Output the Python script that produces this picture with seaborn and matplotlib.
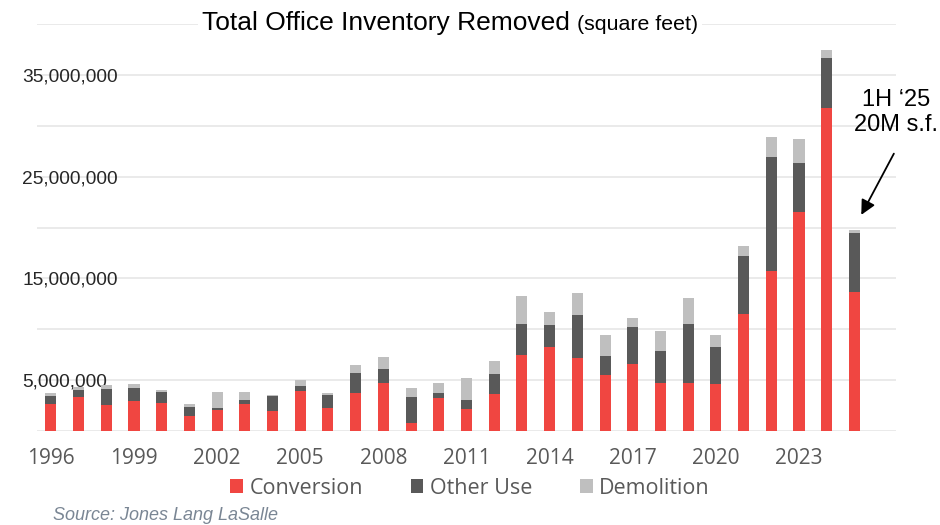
import matplotlib
matplotlib.use('Agg')
import numpy as np
import pandas as pd
import seaborn as sns
import matplotlib.pyplot as plt
from matplotlib.patches import Patch

# data (million square feet)
years = list(range(1996, 2026))
conversion = [2.68, 3.33, 2.52, 2.91, 2.71, 1.50, 2.06, 2.68, 1.93, 3.89,
              2.22, 3.76, 4.67, 0.78, 3.20, 2.16, 3.66, 7.48, 8.30, 7.22,
              5.52, 6.54, 4.67, 4.74, 4.61, 11.47, 15.72, 21.57, 31.70, 13.69]
other_use = [0.78, 0.69, 1.60, 1.27, 1.11, 0.85, 0.23, 0.33, 1.47, 0.55,
             1.31, 1.96, 1.38, 2.55, 0.53, 0.91, 1.90, 3.04, 2.16, 4.15,
             1.87, 3.69, 3.17, 5.82, 3.66, 5.68, 11.18, 4.74, 4.93, 5.75]
demolition = [0.23, 0.33, 0.42, 0.40, 0.20, 0.26, 1.57, 0.81, 0.10, 0.59,
              0.23, 0.72, 1.27, 0.92, 0.94, 2.09, 1.30, 2.72, 1.24, 2.16,
              2.02, 0.85, 2.00, 2.48, 1.21, 1.02, 2.02, 2.38, 0.79, 0.33]
series_names = ['Conversion', 'Other Use', 'Demolition']
colors = ['#F04641', '#595959', '#BFBFBF']

df = pd.DataFrame({'year': [str(y) for y in years],
                   'conv': np.array(conversion) * 1e6,
                   'other': np.array(other_use) * 1e6,
                   'demo': np.array(demolition) * 1e6})
df['lvl2'] = df['conv'] + df['other']
df['total'] = df['lvl2'] + df['demo']

sns.set_theme(style='white')
plt.rcParams['font.family'] = ['Liberation Sans', 'DejaVu Sans']

fig = plt.figure(figsize=(9.4, 5.25), dpi=100)
ax = fig.add_axes([37 / 940, 1 - 431 / 525, (896 - 37) / 940, (431 - 24) / 525])

# stacked bars drawn as overlapping cumulative totals
sns.barplot(data=df, x='year', y='total', color=colors[2], width=0.4,
            saturation=1, linewidth=0, errorbar=None, ax=ax, zorder=3)
sns.barplot(data=df, x='year', y='lvl2', color=colors[1], width=0.4,
            saturation=1, linewidth=0, errorbar=None, ax=ax, zorder=3)
sns.barplot(data=df, x='year', y='conv', color=colors[0], width=0.4,
            saturation=1, linewidth=0, errorbar=None, ax=ax, zorder=3)

ax.set_xlim(-0.5, 30.5)
ax.set_ylim(0, 40e6)
ax.set_xlabel('')
ax.set_ylabel('')
for s in ax.spines.values():
    s.set_visible(False)

yt = np.arange(0, 40e6 + 1, 5e6)
ax.set_yticks(yt)
ax.set_yticklabels(['' if v % 10e6 == 0 else f'{v:,.0f}' for v in yt],
                   fontsize=13.8, color='#262626')
for lab in ax.get_yticklabels():
    lab.set_horizontalalignment('left')
ax.tick_params(axis='y', length=0, pad=10.8)
ax.yaxis.grid(True, color='#E6E6E6', linewidth=1.2)
ax.set_axisbelow(True)

xt = list(range(0, 30, 3))
ax.set_xticks(xt)
ax.set_xticklabels([str(years[i]) for i in xt], fontsize=15, color='#595959',
                   family='Open Sans')
ax.tick_params(axis='x', length=0, pad=12)

# title
fig.text(202 / 940, 1 - 30 / 525, 'Total Office Inventory Removed', fontsize=19,
         color='black', va='baseline', ha='left',
         bbox=dict(facecolor='white', edgecolor='none', pad=3))
fig.text(577 / 940, 1 - 30 / 525, '(square feet)', fontsize=15.4,
         color='black', va='baseline', ha='left',
         bbox=dict(facecolor='white', edgecolor='none', pad=3))

# annotation for 2025
ax.text(30.5, 31.3e6, '1H \u201825\n20M s.f.', fontsize=17, ha='center',
        va='center', color='black', clip_on=False)
ax.annotate('', xy=(29.2, 21.0e6), xytext=(30.47, 27.5e6),
            arrowprops=dict(arrowstyle='-|>', color='black', lw=1.3,
                            mutation_scale=22),
            annotation_clip=False)

handles = [Patch(facecolor=c, edgecolor='none') for c in colors]
fig.legend(handles, series_names, loc='center', bbox_to_anchor=(0.5, 1 - 488 / 525),
           ncol=3, frameon=False, handlelength=0.6, handleheight=0.6,
           handletextpad=0.3, columnspacing=2.2, labelcolor='#595959',
           prop={'family': 'Open Sans', 'size': 15.5})

fig.text(53 / 940, 1 - 515 / 525, 'Source: Jones Lang LaSalle', fontsize=13,
         style='italic', color='#7A8694', ha='left', va='center')

fig.savefig('out.png', dpi=100)
